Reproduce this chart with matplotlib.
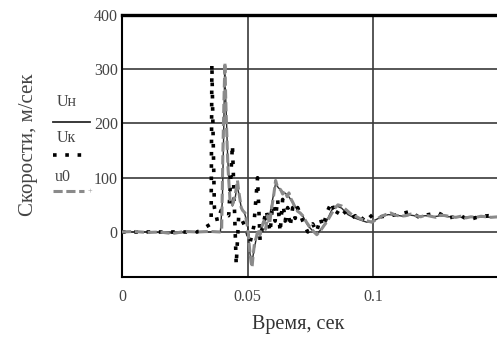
import matplotlib.pyplot as plt
from matplotlib.lines import Line2D

plt.rcParams['font.family'] = ['Liberation Serif', 'DejaVu Serif']

# ---------------- u0 (grey dashed) ----------------
t_u0 = [0.000, 0.005, 0.010, 0.015, 0.020, 0.025, 0.030, 0.035, 0.0390, 0.0397,
        0.0402, 0.0406, 0.0410, 0.0413, 0.0416, 0.0419, 0.0422, 0.0426, 0.0430, 0.0435,
        0.0440, 0.0445, 0.0450, 0.0455, 0.0460, 0.0465, 0.0470, 0.0475, 0.0480, 0.0490,
        0.0500, 0.0508, 0.0514, 0.0518, 0.0522, 0.0528, 0.0535, 0.0542, 0.0550, 0.0557,
        0.0565, 0.0572, 0.0580, 0.0588, 0.0595, 0.0605, 0.0612, 0.0618, 0.0625, 0.0632,
        0.0640, 0.0650, 0.0658, 0.0665, 0.0672, 0.0680, 0.0690, 0.0700, 0.0710, 0.0720,
        0.0735, 0.0750, 0.0765, 0.0776, 0.0790, 0.0805, 0.0815, 0.0830, 0.0845, 0.0860,
        0.0875, 0.0890, 0.0905, 0.0920, 0.0935, 0.0950, 0.0965, 0.0980, 0.0995, 0.1010,
        0.1030, 0.1050, 0.1070, 0.1090, 0.1110, 0.1130, 0.1150, 0.1170, 0.1190, 0.1210,
        0.1230, 0.1250, 0.1270, 0.1290, 0.1310, 0.1330, 0.1350, 0.1370, 0.1390, 0.1410,
        0.1430, 0.1450, 0.1470, 0.1500]
v_u0 = [0, 1, -1, 0, -3, 1, 0, 1, 0, 2,
        150, 240, 312, 250, 200, 160, 120, 90, 60, 55,
        50, 58, 65, 80, 95, 75, 60, 45, 40, 35,
        10, -30, -55, -65, -45, -20, -10, 5, -5, 10,
        20, 5, 30, 15, 40, 70, 95, 85, 80, 78,
        70, 75, 65, 72, 62, 55, 45, 38, 35, 30,
        18, 8, 0, -5, 2, 12, 18, 30, 42, 50,
        48, 42, 36, 30, 28, 24, 22, 20, 18, 22,
        28, 32, 35, 31, 29, 30, 33, 30, 28, 31,
        29, 27, 31, 30, 28, 27, 29, 26, 28, 27,
        29, 28, 27, 28]

# ---------------- Uн (dark solid, mostly under u0) ----------------
t_un = [0.000, 0.010, 0.020, 0.030, 0.0392, 0.0400, 0.0405, 0.0409, 0.0412, 0.0416,
        0.0420, 0.0425, 0.0432, 0.0440, 0.0450, 0.0458, 0.0466, 0.0475, 0.0488, 0.0500,
        0.0510, 0.0517, 0.0525, 0.0535, 0.0545, 0.0555, 0.0565, 0.0578, 0.0590, 0.0602,
        0.0612, 0.0622, 0.0635, 0.0648, 0.0660, 0.0672, 0.0688, 0.0705, 0.0722, 0.0740,
        0.0760, 0.0778, 0.0795, 0.0815, 0.0835, 0.0855, 0.0875, 0.0900, 0.0925, 0.0950,
        0.0975, 0.1000, 0.1030, 0.1060, 0.1090, 0.1120, 0.1150, 0.1180, 0.1210, 0.1240,
        0.1270, 0.1300, 0.1330, 0.1360, 0.1390, 0.1420, 0.1450, 0.1500]
v_un = [0, 0, -2, 0, 0, 60, 180, 295, 260, 210,
        150, 100, 60, 48, 60, 85, 70, 45, 35, 15,
        -40, -60, -35, -12, 0, 5, 18, 25, 35, 65,
        90, 82, 76, 72, 68, 60, 48, 36, 28, 12,
        2, -3, 6, 20, 40, 48, 44, 32, 26, 22,
        18, 20, 27, 32, 31, 29, 31, 29, 30, 28,
        30, 28, 28, 27, 28, 28, 27, 28]

# ---------------- Uк (black dotted) ----------------
t_uk = [0.000, 0.010, 0.020, 0.030, 0.0355, 0.0358, 0.0368, 0.0380, 0.0395, 0.0410,
        0.0425, 0.0440, 0.0455, 0.0465, 0.0480, 0.0495, 0.0510, 0.0525, 0.0540, 0.0550,
        0.0560, 0.0575, 0.0590, 0.0600, 0.0610, 0.0620, 0.0630, 0.0640, 0.0650, 0.0660,
        0.0670, 0.0680, 0.0690, 0.0700, 0.0720, 0.0740, 0.0760, 0.0775, 0.0790, 0.0800,
        0.0820, 0.0835, 0.0850, 0.0870, 0.0890, 0.0910, 0.0930, 0.0950, 0.0980, 0.1000,
        0.1030, 0.1060, 0.1100, 0.1150, 0.1180, 0.1220, 0.1260, 0.1300, 0.1350, 0.1380,
        0.1420, 0.1460, 0.1500]
v_uk = [0, 0, 0, 0, 15, 310, 45, 20, 40, 35,
        30, 160, -60, 30, 20, 5, -20, 10, 100, -15,
        10, 40, 0, 50, 20, 60, 0, 60, 20, 45,
        10, 45, 25, 45, 20, 0, 15, 0, 25, 10,
        40, 55, 30, 45, 35, 25, 30, 20, 35, 25,
        28, 30, 32, 38, 28, 32, 35, 26, 30, 22,
        28, 30, 28]

y_ticks = [0, 100, 200, 300, 400]
x_ticks = [0, 0.05, 0.1]
x_tick_labels = ['0', '0.05', '0.1']

fig = plt.figure(figsize=(4.97, 3.41), dpi=100)
ax = fig.add_axes([0.2455, 0.1877, 0.7545, 0.7683])

ax.plot(t_un, v_un, color='#2a2a2a', lw=1.0, zorder=3)
ax.plot(t_uk, v_uk, color='black', lw=2.6, dashes=(1, 2.4),
        dash_capstyle='butt', zorder=4)
ax.plot(t_u0, v_u0, color='#8a8a8a', lw=2.2, dashes=(3, 1.2),
        dash_capstyle='butt', zorder=5)

ax.set_xlim(0, 0.1494)
ax.set_ylim(-83, 400)
ax.set_yticks(y_ticks)
ax.set_xticks(x_ticks)
ax.set_xticklabels(x_tick_labels)
ax.tick_params(length=0, labelsize=11.5, labelcolor='#444444')
ax.tick_params(axis='x', pad=9)
ax.tick_params(axis='y', pad=3)
ax.grid(True, color='#3a3a3a', lw=1.2)
ax.set_axisbelow(True)

ax.spines['right'].set_visible(False)
ax.spines['top'].set_linewidth(2.4)
ax.spines['left'].set_linewidth(1.5)
ax.spines['bottom'].set_linewidth(1.5)

fig.text(0.057, 0.575, 'Скорости, м/сек', rotation=90, ha='center', va='center',
         fontsize=15, color='#444444')
fig.text(0.6, 0.047, 'Время, сек', ha='center', va='center',
         fontsize=14.5, color='#333333')

# Mathcad-style legend to the left of the axes
fig.text(0.115, 0.69, 'Uн', fontsize=11.5, color='#444444')
fig.add_artist(Line2D([0.107, 0.181], [0.642, 0.642], color='#2a2a2a', lw=1.3))
fig.text(0.115, 0.585, 'Uк', fontsize=11.5, color='#444444')
fig.add_artist(Line2D([0.107, 0.165], [0.545, 0.545], color='black', lw=2.6,
                      dashes=(1, 2.4), dash_capstyle='butt'))
fig.text(0.111, 0.47, 'u0', fontsize=11.5, color='#444444')
fig.add_artist(Line2D([0.107, 0.170], [0.44, 0.44], color='#8a8a8a', lw=2.2,
                      dashes=(3, 1.2), dash_capstyle='butt'))
fig.text(0.176, 0.44, '+', fontsize=6, color='#888888', va='center')

fig.savefig('out.png', dpi=100)
